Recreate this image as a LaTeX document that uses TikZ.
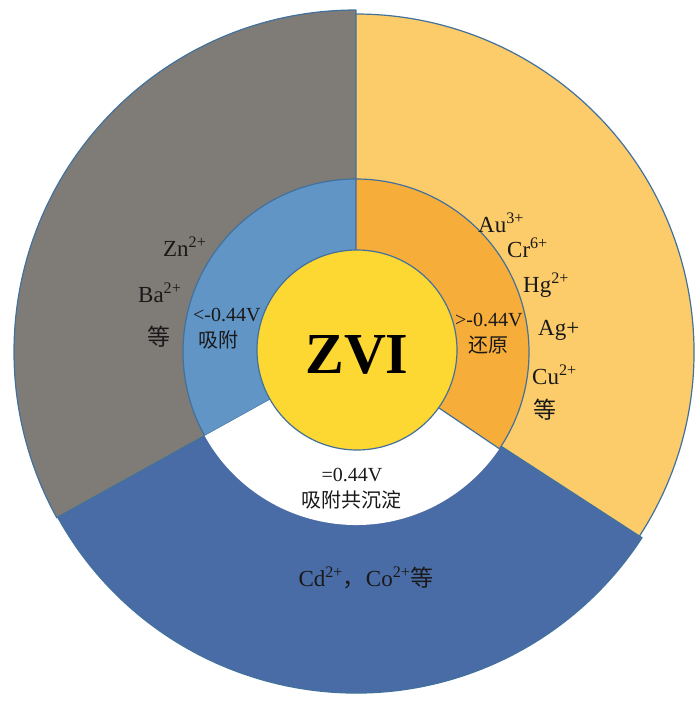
\documentclass[tikz,border=0pt]{standalone}
\usepackage{fontspec}
\setmainfont{Liberation Serif}
\newfontfamily\cjk{Noto Sans CJK SC}
\usepackage{tikz}
\definecolor{edgeblue}{HTML}{41719C}
\definecolor{graysector}{HTML}{7F7C77}
\definecolor{bluesector}{HTML}{4A6CA6}
\definecolor{yellowsector}{HTML}{FCCC6A}
\definecolor{lightblue}{HTML}{6195C6}
\definecolor{orangesector}{HTML}{F7AD3A}
\definecolor{zvicore}{HTML}{FDD732}

\begin{document}
\begin{tikzpicture}[x=1pt, y=1pt,
    sector/.style={draw=edgeblue, line width=1.2pt, line join=round},
    ion/.style={anchor=west, inner sep=0pt, text=black!90, font=\fontsize{23}{26}\selectfont},
    volt/.style={anchor=west, inner sep=0pt, text=black!90, font=\fontsize{20}{22}\selectfont}]
            % Frame
            \useasboundingbox (-356, -353) rectangle (344, 352);

            % Outer ring
            \draw[sector, fill=graysector] (0, 0) -- (90:342) arc (90:209:342) -- cycle;
            \draw[sector, fill=bluesector] (0, 0) -- (209:341) arc (209:327:341) -- cycle;
            \draw[sector, fill=yellowsector] (0, 0) -- (-33:338) arc (-33:90:338) -- cycle;

            % Inner ring
            \draw[sector, fill=lightblue] (0, 0) -- (90:173) arc (90:209:173) -- cycle;
            \fill[white] (0, 0) -- (209:173) arc (209:326:173) -- cycle;
            \draw[sector, fill=orangesector] (0, 0) -- (-34:173) arc (-34:90:173) -- cycle;

            % Core
            \draw[sector, fill=zvicore] (1, 2) circle (100);
            \node (zvi) at (1, -3) {\fontsize{58}{60}\selectfont\bfseries ZVI};

            % Labels in the inner ring
            \node[volt] (ltv) at (-163, 37) {<-0.44V};
            \node[volt] (ltvtxt) at (-158, 12) {\cjk 吸附};
            \node[volt] (gtv) at (99, 32) {>-0.44V};
            \node[volt] (gtvtxt) at (112, 7) {\cjk 还原};
            \node[volt, anchor=center] (eqv) at (-4, -123) {=0.44V};
            \node[volt, anchor=center] (eqvtxt) at (-4, -148) {\cjk 吸附共沉淀};

            % Ions, right
            \node[ion] (au) at (122, 129) {Au\textsuperscript{3+}};
            \node[ion] (cr) at (151, 104) {Cr\textsuperscript{6+}};
            \node[ion] (hg) at (167, 67) {Hg\textsuperscript{2+}};
            \node[ion] (ag) at (182, 22) {Ag+};
            \node[ion] (cu) at (176, -23) {Cu\textsuperscript{2+}};
            \node[ion] (dengR) at (177, -58) {\cjk 等};

            % Ions, left
            \node[ion] (zn) at (-193, 105) {Zn\textsuperscript{2+}};
            \node[ion] (ba) at (-218, 59) {Ba\textsuperscript{2+}};
            \node[ion] (dengL) at (-209, 15) {\cjk 等};

            % Ions, bottom
            \node[ion, anchor=center] (cdco) at (10, -226) {Cd\textsuperscript{2+}{\cjk ，}Co\textsuperscript{2+}{\cjk 等}};
\end{tikzpicture}
\end{document}
